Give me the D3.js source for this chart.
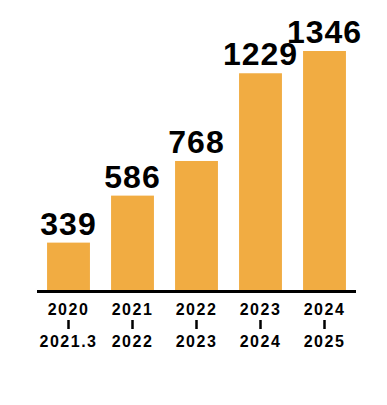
<!DOCTYPE html>
<html>
<head>
<meta charset="utf-8">
<script src="https://cdn.jsdelivr.net/npm/d3@7"></script>
<style>
  body { margin: 0; background: #fff; }
  text { font-family: "Liberation Sans", Arial, sans-serif; font-weight: bold; fill: #000; }
</style>
</head>
<body>
<div id="chart"></div>
<script>
// data
const periodsFrom = ['2020', '2021', '2022', '2023', '2024']
const periodsTo = ['2021.3', '2022', '2023', '2024', '2025']
const values = [339, 586, 768, 1229, 1346]

const width = 387
const height = 405
const baseY = 290

const svg = d3.select('#chart').append('svg')
  .attr('width', width)
  .attr('height', height)
  .attr('viewBox', [0, 0, width, height])

const x = d3.scaleBand()
  .domain(periodsFrom)
  .range([36.5, 356.5])
  .paddingInner(0.33)
  .paddingOuter(0.165)

const y = d3.scaleLinear()
  .domain([90, 1346])
  .range([baseY, 51])

const data = values.map((v, i) => ({ v: v, from: periodsFrom[i], to: periodsTo[i] }))

// bars
svg.append('g').classed('bars', true)
  .selectAll('rect')
  .data(data)
  .enter().append('rect')
  .attr('x', d => x(d.from))
  .attr('y', d => y(d.v))
  .attr('width', x.bandwidth())
  .attr('height', d => baseY - y(d.v))
  .attr('fill', '#F1AC42')

// value labels
svg.append('g').classed('values', true)
  .attr('text-anchor', 'middle')
  .selectAll('text')
  .data(data)
  .enter().append('text')
  .attr('x', d => x(d.from) + x.bandwidth() / 2)
  .attr('y', d => y(d.v) - 8)
  .attr('font-size', 32)
  .attr('letter-spacing', 1)
  .text(d => d.v)

// baseline
svg.append('line')
  .attr('x1', 37).attr('x2', 356)
  .attr('y1', baseY + 1.5).attr('y2', baseY + 1.5)
  .attr('stroke', '#000')
  .attr('stroke-width', 3)

// period labels
const xl = svg.append('g').classed('xlabels', true)
  .attr('text-anchor', 'middle')
  .selectAll('g')
  .data(data)
  .enter().append('g')
  .attr('transform', d => `translate(${x(d.from) + x.bandwidth() / 2},0)`)

xl.append('text')
  .attr('y', 315)
  .attr('font-size', 16)
  .attr('letter-spacing', 1.5)
  .text(d => d.from)

// the little "|" between start and end year
xl.append('rect')
  .attr('x', -1.25)
  .attr('y', 320)
  .attr('width', 2.5)
  .attr('height', 9)
  .attr('fill', '#000')

xl.append('text')
  .attr('y', 347)
  .attr('font-size', 16)
  .attr('letter-spacing', 1.5)
  .text(d => d.to)
</script>
</body>
</html>
